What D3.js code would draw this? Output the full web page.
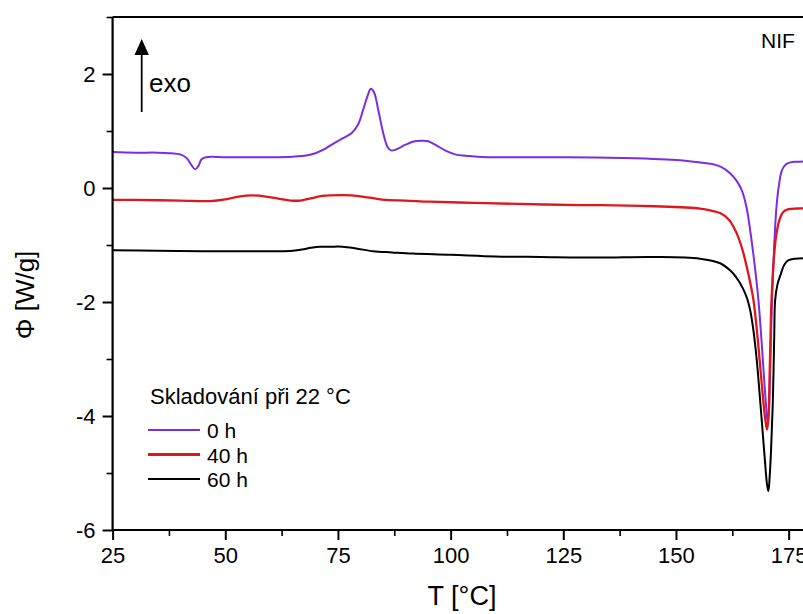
<!DOCTYPE html>
<html>
<head>
<meta charset="utf-8">
<script src="https://cdn.jsdelivr.net/npm/d3@7"></script>
<style>
  html, body { margin: 0; padding: 0; background: #fff; }
  svg { display: block; font-family: "Liberation Sans", Arial, sans-serif; }
</style>
</head>
<body>
<svg id="chart" width="803" height="614"></svg>
<script>
// ---------- data ----------
const seriesNames = ["0 h", "40 h", "60 h"];
const seriesColors = ["#7b2de4", "#e0161c", "#000000"];
const legendTitle = "Skladování při 22 °C";

const t0h = [25, 30, 35, 38, 40, 41.5, 42.5, 43.3, 44, 44.7, 45.7, 50, 55, 60, 65, 68, 70, 72, 74, 76, 78, 79.5, 80.5, 81.5, 82.3, 83, 84, 85, 86, 86.8, 88, 90, 92, 93.6, 95, 97, 99, 101, 104, 108, 115, 125, 135, 145, 150, 155, 158, 160, 162, 163.5, 164.7, 165.7, 166.6, 167.5, 168.3, 169.0, 169.6, 170.1, 170.35, 170.6, 170.9, 171.3, 171.8, 172.3, 172.9, 173.5, 174.3, 175.4, 177, 180];
const phi0h = [0.63, 0.62, 0.62, 0.61, 0.59, 0.52, 0.40, 0.33, 0.38, 0.50, 0.54, 0.54, 0.54, 0.54, 0.55, 0.57, 0.61, 0.68, 0.78, 0.87, 0.96, 1.12, 1.35, 1.60, 1.74, 1.68, 1.35, 0.98, 0.72, 0.66, 0.68, 0.76, 0.82, 0.83, 0.82, 0.74, 0.65, 0.59, 0.56, 0.54, 0.54, 0.54, 0.53, 0.51, 0.49, 0.45, 0.42, 0.37, 0.26, 0.12, -0.06, -0.36, -0.82, -1.38, -1.97, -2.7, -3.4, -3.92, -4.1, -3.95, -3.2, -1.97, -1.0, -0.33, 0.08, 0.31, 0.41, 0.45, 0.46, 0.47];

const t40h = [25, 30, 40, 46.6, 50, 53, 56, 59, 62, 64.5, 66.6, 69, 71.5, 73.2, 78, 82, 85.8, 90, 95.4, 105, 115, 128.7, 133.1, 145, 155.3, 158, 159.8, 161.8, 163.5, 164.7, 165.7, 166.5, 167.2, 168.2, 169.1, 169.8, 170.2, 170.5, 170.8, 171.2, 171.7, 172.3, 173, 173.8, 175, 177, 180];
const phi40h = [-0.21, -0.21, -0.22, -0.23, -0.20, -0.15, -0.13, -0.15, -0.19, -0.22, -0.22, -0.18, -0.14, -0.13, -0.13, -0.17, -0.21, -0.22, -0.24, -0.26, -0.28, -0.30, -0.30, -0.32, -0.36, -0.40, -0.44, -0.56, -0.80, -1.07, -1.38, -1.67, -1.97, -2.7, -3.5, -4.05, -4.24, -4.05, -3.2, -1.97, -1.25, -0.8, -0.55, -0.42, -0.37, -0.36, -0.35];

const t60h = [25, 35, 45, 55, 62, 65, 67, 69, 71, 73.2, 76, 79, 82.8, 87, 91.6, 100, 110, 120, 133, 145, 155.3, 159.8, 161.5, 162.7, 164, 164.9, 165.7, 166.4, 167.1, 167.9, 168.6, 169.4, 169.9, 170.2, 170.5, 170.8, 171.1, 171.5, 171.8, 172.0, 172.5, 173.3, 174.0, 174.9, 176.5, 180];
const phi60h = [-1.09, -1.10, -1.11, -1.11, -1.11, -1.10, -1.08, -1.05, -1.03, -1.03, -1.03, -1.06, -1.11, -1.13, -1.15, -1.17, -1.20, -1.21, -1.22, -1.21, -1.24, -1.32, -1.41, -1.50, -1.64, -1.77, -1.92, -2.12, -2.45, -3.0, -3.65, -4.45, -4.95, -5.2, -5.32, -5.05, -4.59, -3.71, -2.6, -1.97, -1.70, -1.50, -1.35, -1.27, -1.24, -1.23];

const xTicks = [25, 50, 75, 100, 125, 150, 175];
const xMinorTicks = [37.5, 62.5, 87.5, 112.5, 137.5, 162.5, 187.5];
const yTicks = [-6, -4, -2, 0, 2];
const yMinorTicks = [-5, -3, -1, 1, 3];

// ---------- layout ----------
const svg = d3.select("#chart");
const plotLeft = 112.6, plotTop = 17, plotBottom = 530;
const x = d3.scaleLinear().domain([25, 180]).range([plotLeft, plotLeft + 155 * 4.507]);
const y = d3.scaleLinear().domain([-6, 3]).range([plotBottom, plotTop]);
const W = 803;
const fmt = d => String(d);

// top border
svg.append("line").attr("x1", plotLeft).attr("x2", W + 10).attr("y1", plotTop).attr("y2", plotTop)
  .attr("stroke", "#000").attr("stroke-width", 2);

// lines
const line = d3.line().x(d => x(d[0])).y(d => y(d[1])).curve(d3.curveCatmullRom.alpha(0.5));
const series = [
  { t: t0h, v: phi0h, w: 2 },
  { t: t40h, v: phi40h, w: 2.3 },
  { t: t60h, v: phi60h, w: 2 }
];
[2, 0, 1].forEach(i => {
  const s = series[i];
  svg.append("path")
    .datum(s.t.map((t, k) => [t, s.v[k]]))
    .attr("d", line)
    .attr("fill", "none")
    .attr("stroke", seriesColors[i])
    .attr("stroke-width", s.w)
    .attr("stroke-linejoin", "round");
});

// x axis
const xAxis = d3.axisBottom(x).tickValues(xTicks).tickSize(10).tickPadding(7).tickFormat(fmt);
const gx = svg.append("g").attr("transform", `translate(0,${plotBottom})`).call(xAxis);
gx.select(".domain").attr("d", `M${plotLeft},0H${W + 10}`).attr("stroke-width", 2.2);
gx.selectAll(".tick line").attr("stroke-width", 2);
gx.selectAll(".tick text").attr("font-size", 22).attr("fill", "#000")
  .attr("font-family", "Liberation Sans, Arial, sans-serif");
const xMinor = d3.axisBottom(x).tickValues(xMinorTicks).tickSize(6).tickFormat("");
const gxm = svg.append("g").attr("transform", `translate(0,${plotBottom})`).call(xMinor);
gxm.select(".domain").remove();
gxm.selectAll(".tick line").attr("stroke-width", 1.6);

// y axis
const yAxis = d3.axisLeft(y).tickValues(yTicks).tickSize(10).tickPadding(7).tickFormat(fmt);
const gy = svg.append("g").attr("transform", `translate(${plotLeft},0)`).call(yAxis);
gy.select(".domain").attr("d", `M0,${plotTop}V${plotBottom}`).attr("stroke-width", 2.2);
gy.selectAll(".tick line").attr("stroke-width", 2);
gy.selectAll(".tick text").attr("font-size", 22).attr("fill", "#000")
  .attr("font-family", "Liberation Sans, Arial, sans-serif");
const yMinor = d3.axisLeft(y).tickValues(yMinorTicks).tickSize(6).tickFormat("");
const gym = svg.append("g").attr("transform", `translate(${plotLeft},0)`).call(yMinor);
gym.select(".domain").remove();
gym.selectAll(".tick line").attr("stroke-width", 1.6);

// axis titles
svg.append("text").attr("x", 462).attr("y", 605).attr("text-anchor", "middle")
  .attr("font-size", 27).text("T [°C]");
svg.append("text").attr("transform", "translate(34,295) rotate(-90)")
  .attr("text-anchor", "middle").attr("font-size", 26).text("Φ [W/g]");

// NIF label
svg.append("text").attr("x", 761).attr("y", 48).attr("font-size", 21).text("NIF");

// exo arrow
svg.append("line").attr("x1", 141.7).attr("x2", 141.7).attr("y1", 112).attr("y2", 52)
  .attr("stroke", "#000").attr("stroke-width", 1.8);
svg.append("path").attr("d", "M141.7,39 L134.5,55 L148.9,55 Z").attr("fill", "#000");
svg.append("text").attr("x", 149).attr("y", 92).attr("font-size", 26).text("exo");

// legend
svg.append("text").attr("x", 150).attr("y", 404).attr("font-size", 22).text(legendTitle);
const legendY = [430, 454.5, 479];
seriesNames.forEach((n, i) => {
  svg.append("line").attr("x1", 148).attr("x2", 200).attr("y1", legendY[i]).attr("y2", legendY[i])
    .attr("stroke", seriesColors[i]).attr("stroke-width", i === 1 ? 3 : 2);
  svg.append("text").attr("x", 207).attr("y", legendY[i] + 8).attr("font-size", 21).text(n);
});
</script>
</body>
</html>
